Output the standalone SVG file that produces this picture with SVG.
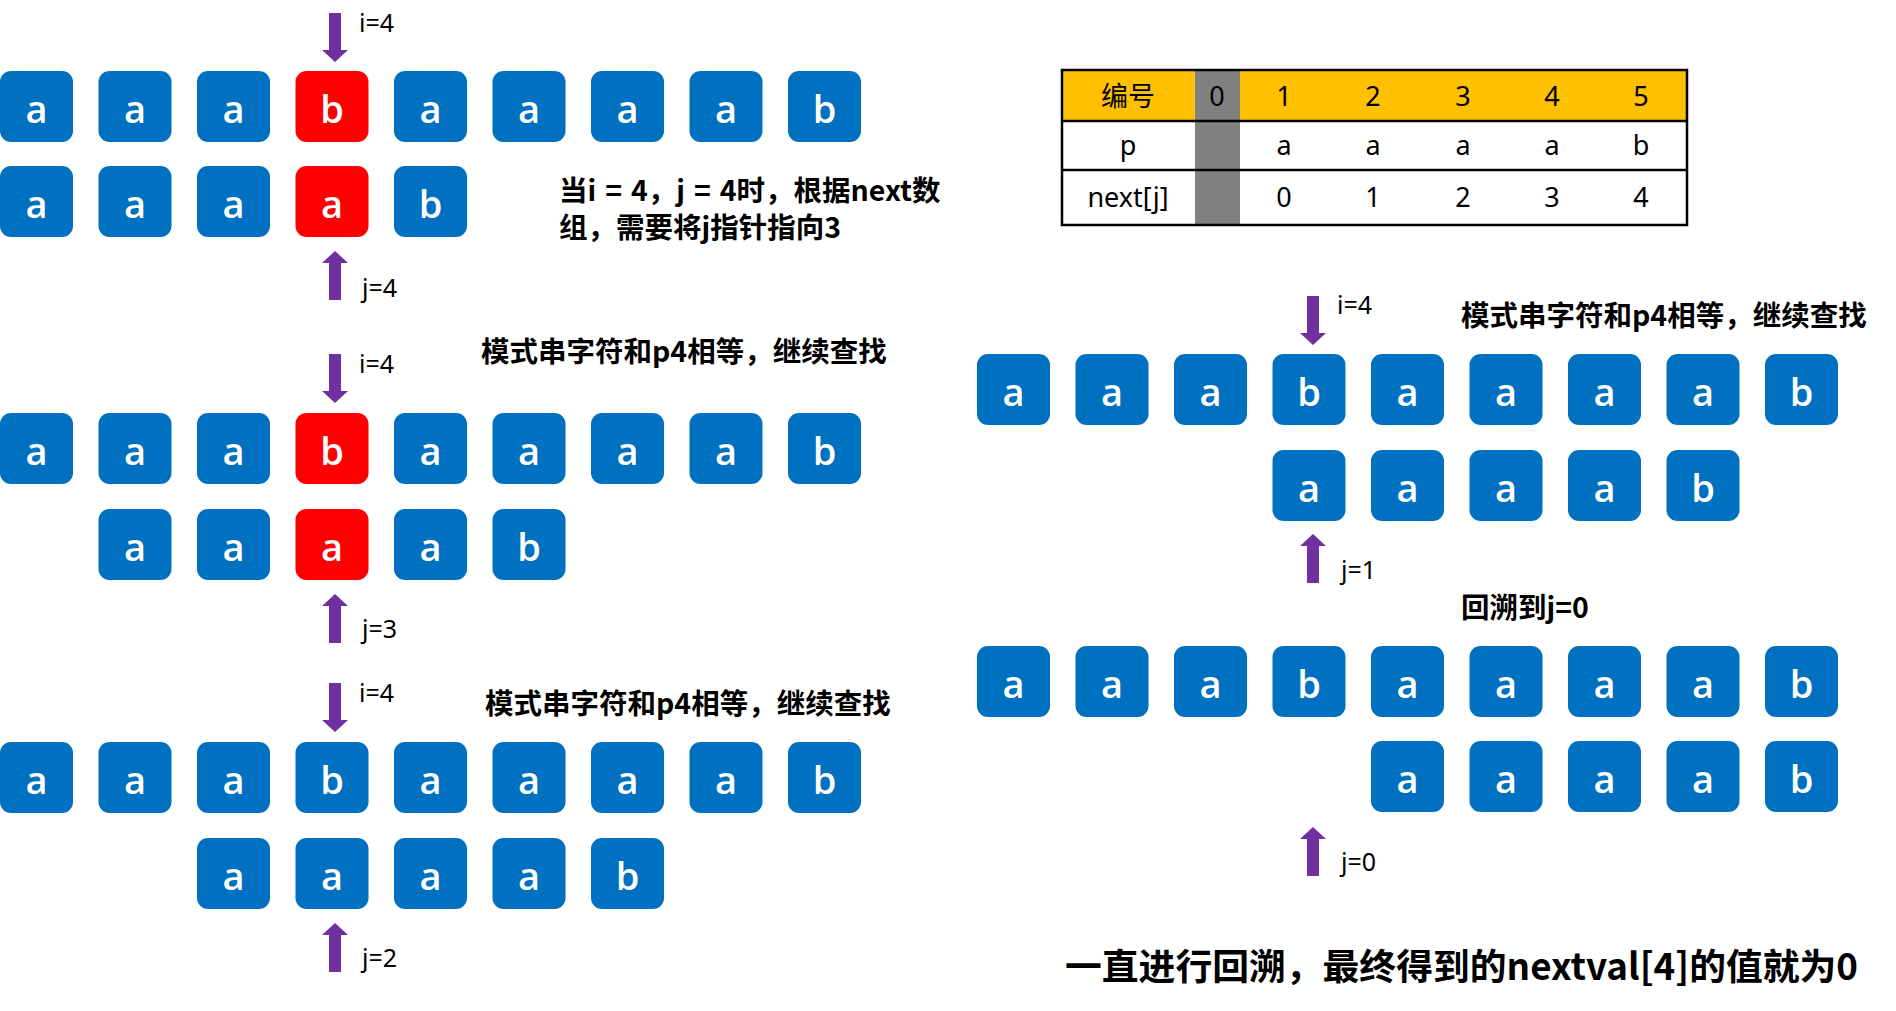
<svg xmlns="http://www.w3.org/2000/svg" xmlns:xlink="http://www.w3.org/1999/xlink" width="1896" height="1011" viewBox="0 0 1896 1011">
<style>
.bx{fill:#0070C0}
.rd{fill:#FF0000}
.ch{font-family:"Open Sans","Noto Sans",sans-serif;font-weight:600;font-size:38px;fill:#fff;text-anchor:middle}
.lbl{font-family:"Noto Sans","Liberation Sans",sans-serif;font-size:25px;fill:#000}
.cn{font-family:"Noto Sans CJK SC","Noto Sans",sans-serif;font-weight:bold;font-size:28.5px;fill:#000}
.big{font-family:"Noto Sans CJK SC","Noto Sans",sans-serif;font-weight:bold;font-size:36.8px;fill:#000}
.tb{font-family:"Noto Sans","Noto Sans CJK SC",sans-serif;font-size:27px;fill:#000;text-anchor:middle}
.arr{fill:#7030A0}
</style>
<defs>
<path id="down" d="M-6 0H6V37H13L0 49L-13 37H-6Z"/>
<path id="up" d="M0 0L13 12H6V49H-6V12H-13Z"/>
</defs>
<rect width="1896" height="1011" fill="#fff"/>

<g id="connectors" class="arr">
<use href="#down" x="335" y="13"/>
<use href="#up" x="335" y="251"/>
<use href="#down" x="335" y="354"/>
<use href="#up" x="335" y="594"/>
<use href="#down" x="335" y="683"/>
<use href="#up" x="335" y="923"/>
<use href="#down" x="1313" y="296"/>
<use href="#up" x="1313" y="534"/>
<use href="#up" x="1313" y="827"/>
</g>

<g id="labels">
<text class="lbl" x="359" y="32">i=4</text>
<text class="lbl" x="362" y="297">j=4</text>
<text class="lbl" x="359" y="373">i=4</text>
<text class="lbl" x="362" y="638">j=3</text>
<text class="lbl" x="359" y="702">i=4</text>
<text class="lbl" x="362" y="967">j=2</text>
<text class="lbl" x="1337" y="314">i=4</text>
<text class="lbl" x="1341" y="579">j=1</text>
<text class="lbl" x="1341" y="871">j=0</text>
<text class="cn" x="559" y="201" word-spacing="2.5">当i = 4，j = 4时，根据next数</text>
<text class="cn" x="559" y="238">组，需要将j指针指向3</text>
<text class="cn" x="481" y="362">模式串字符和p4相等，继续查找</text>
<text class="cn" x="485" y="714">模式串字符和p4相等，继续查找</text>
<text class="cn" x="1461" y="326">模式串字符和p4相等，继续查找</text>
<text class="cn" x="1461" y="618">回溯到j=0</text>
<text class="big" x="1065" y="980">一直进行回溯，最终得到的nextval[4]的值就为0</text>
</g>

<g id="table">
<rect x="1062" y="70" width="625" height="51" fill="#FFC000"/>
<rect x="1195" y="70" width="45" height="155" fill="#808080"/>
<path d="M1062 70H1687V225H1062Z M1062 121H1687 M1062 170H1687" fill="none" stroke="#000" stroke-width="2.5"/>
<text class="tb" x="1128" y="106">编号</text>
<text class="tb" x="1217" y="106">0</text>
<text class="tb" x="1284" y="106">1</text>
<text class="tb" x="1373" y="106">2</text>
<text class="tb" x="1463" y="106">3</text>
<text class="tb" x="1552" y="106">4</text>
<text class="tb" x="1641" y="106">5</text>
<text class="tb" x="1128" y="155">p</text>
<text class="tb" x="1284" y="155">a</text>
<text class="tb" x="1373" y="155">a</text>
<text class="tb" x="1463" y="155">a</text>
<text class="tb" x="1552" y="155">a</text>
<text class="tb" x="1641" y="155">b</text>
<text class="tb" x="1128" y="207">next[j]</text>
<text class="tb" x="1284" y="207">0</text>
<text class="tb" x="1373" y="207">1</text>
<text class="tb" x="1463" y="207">2</text>
<text class="tb" x="1552" y="207">3</text>
<text class="tb" x="1641" y="207">4</text>
</g>

<!-- Left section 1 -->
<g id="s1r1">
<rect class="bx" x="0" y="71" width="73" height="71" rx="11"/><text class="ch" x="36.5" y="123">a</text>
<rect class="bx" x="98.5" y="71" width="73" height="71" rx="11"/><text class="ch" x="135" y="123">a</text>
<rect class="bx" x="197" y="71" width="73" height="71" rx="11"/><text class="ch" x="233.5" y="123">a</text>
<rect class="rd" x="295.5" y="71" width="73" height="71" rx="11"/><text class="ch" x="332" y="123">b</text>
<rect class="bx" x="394" y="71" width="73" height="71" rx="11"/><text class="ch" x="430.5" y="123">a</text>
<rect class="bx" x="492.5" y="71" width="73" height="71" rx="11"/><text class="ch" x="529" y="123">a</text>
<rect class="bx" x="591" y="71" width="73" height="71" rx="11"/><text class="ch" x="627.5" y="123">a</text>
<rect class="bx" x="689.5" y="71" width="73" height="71" rx="11"/><text class="ch" x="726" y="123">a</text>
<rect class="bx" x="788" y="71" width="73" height="71" rx="11"/><text class="ch" x="824.5" y="123">b</text>
</g>
<g id="s1r2">
<rect class="bx" x="0" y="166" width="73" height="71" rx="11"/><text class="ch" x="36.5" y="218">a</text>
<rect class="bx" x="98.5" y="166" width="73" height="71" rx="11"/><text class="ch" x="135" y="218">a</text>
<rect class="bx" x="197" y="166" width="73" height="71" rx="11"/><text class="ch" x="233.5" y="218">a</text>
<rect class="rd" x="295.5" y="166" width="73" height="71" rx="11"/><text class="ch" x="332" y="218">a</text>
<rect class="bx" x="394" y="166" width="73" height="71" rx="11"/><text class="ch" x="430.5" y="218">b</text>
</g>

<!-- Left section 2 -->
<g id="s2r1">
<rect class="bx" x="0" y="413" width="73" height="71" rx="11"/><text class="ch" x="36.5" y="465">a</text>
<rect class="bx" x="98.5" y="413" width="73" height="71" rx="11"/><text class="ch" x="135" y="465">a</text>
<rect class="bx" x="197" y="413" width="73" height="71" rx="11"/><text class="ch" x="233.5" y="465">a</text>
<rect class="rd" x="295.5" y="413" width="73" height="71" rx="11"/><text class="ch" x="332" y="465">b</text>
<rect class="bx" x="394" y="413" width="73" height="71" rx="11"/><text class="ch" x="430.5" y="465">a</text>
<rect class="bx" x="492.5" y="413" width="73" height="71" rx="11"/><text class="ch" x="529" y="465">a</text>
<rect class="bx" x="591" y="413" width="73" height="71" rx="11"/><text class="ch" x="627.5" y="465">a</text>
<rect class="bx" x="689.5" y="413" width="73" height="71" rx="11"/><text class="ch" x="726" y="465">a</text>
<rect class="bx" x="788" y="413" width="73" height="71" rx="11"/><text class="ch" x="824.5" y="465">b</text>
</g>
<g id="s2r2">
<rect class="bx" x="98.5" y="509" width="73" height="71" rx="11"/><text class="ch" x="135" y="561">a</text>
<rect class="bx" x="197" y="509" width="73" height="71" rx="11"/><text class="ch" x="233.5" y="561">a</text>
<rect class="rd" x="295.5" y="509" width="73" height="71" rx="11"/><text class="ch" x="332" y="561">a</text>
<rect class="bx" x="394" y="509" width="73" height="71" rx="11"/><text class="ch" x="430.5" y="561">a</text>
<rect class="bx" x="492.5" y="509" width="73" height="71" rx="11"/><text class="ch" x="529" y="561">b</text>
</g>

<!-- Left section 3 -->
<g id="s3r1">
<rect class="bx" x="0" y="742" width="73" height="71" rx="11"/><text class="ch" x="36.5" y="794">a</text>
<rect class="bx" x="98.5" y="742" width="73" height="71" rx="11"/><text class="ch" x="135" y="794">a</text>
<rect class="bx" x="197" y="742" width="73" height="71" rx="11"/><text class="ch" x="233.5" y="794">a</text>
<rect class="bx" x="295.5" y="742" width="73" height="71" rx="11"/><text class="ch" x="332" y="794">b</text>
<rect class="bx" x="394" y="742" width="73" height="71" rx="11"/><text class="ch" x="430.5" y="794">a</text>
<rect class="bx" x="492.5" y="742" width="73" height="71" rx="11"/><text class="ch" x="529" y="794">a</text>
<rect class="bx" x="591" y="742" width="73" height="71" rx="11"/><text class="ch" x="627.5" y="794">a</text>
<rect class="bx" x="689.5" y="742" width="73" height="71" rx="11"/><text class="ch" x="726" y="794">a</text>
<rect class="bx" x="788" y="742" width="73" height="71" rx="11"/><text class="ch" x="824.5" y="794">b</text>
</g>
<g id="s3r2">
<rect class="bx" x="197" y="838" width="73" height="71" rx="11"/><text class="ch" x="233.5" y="890">a</text>
<rect class="bx" x="295.5" y="838" width="73" height="71" rx="11"/><text class="ch" x="332" y="890">a</text>
<rect class="bx" x="394" y="838" width="73" height="71" rx="11"/><text class="ch" x="430.5" y="890">a</text>
<rect class="bx" x="492.5" y="838" width="73" height="71" rx="11"/><text class="ch" x="529" y="890">a</text>
<rect class="bx" x="591" y="838" width="73" height="71" rx="11"/><text class="ch" x="627.5" y="890">b</text>
</g>

<!-- Right section A -->
<g id="rAr1">
<rect class="bx" x="977" y="354" width="73" height="71" rx="11"/><text class="ch" x="1013.5" y="406">a</text>
<rect class="bx" x="1075.5" y="354" width="73" height="71" rx="11"/><text class="ch" x="1112" y="406">a</text>
<rect class="bx" x="1174" y="354" width="73" height="71" rx="11"/><text class="ch" x="1210.5" y="406">a</text>
<rect class="bx" x="1272.5" y="354" width="73" height="71" rx="11"/><text class="ch" x="1309" y="406">b</text>
<rect class="bx" x="1371" y="354" width="73" height="71" rx="11"/><text class="ch" x="1407.5" y="406">a</text>
<rect class="bx" x="1469.5" y="354" width="73" height="71" rx="11"/><text class="ch" x="1506" y="406">a</text>
<rect class="bx" x="1568" y="354" width="73" height="71" rx="11"/><text class="ch" x="1604.5" y="406">a</text>
<rect class="bx" x="1666.5" y="354" width="73" height="71" rx="11"/><text class="ch" x="1703" y="406">a</text>
<rect class="bx" x="1765" y="354" width="73" height="71" rx="11"/><text class="ch" x="1801.5" y="406">b</text>
</g>
<g id="rAr2">
<rect class="bx" x="1272.5" y="450" width="73" height="71" rx="11"/><text class="ch" x="1309" y="502">a</text>
<rect class="bx" x="1371" y="450" width="73" height="71" rx="11"/><text class="ch" x="1407.5" y="502">a</text>
<rect class="bx" x="1469.5" y="450" width="73" height="71" rx="11"/><text class="ch" x="1506" y="502">a</text>
<rect class="bx" x="1568" y="450" width="73" height="71" rx="11"/><text class="ch" x="1604.5" y="502">a</text>
<rect class="bx" x="1666.5" y="450" width="73" height="71" rx="11"/><text class="ch" x="1703" y="502">b</text>
</g>

<!-- Right section B -->
<g id="rBr1">
<rect class="bx" x="977" y="646" width="73" height="71" rx="11"/><text class="ch" x="1013.5" y="698">a</text>
<rect class="bx" x="1075.5" y="646" width="73" height="71" rx="11"/><text class="ch" x="1112" y="698">a</text>
<rect class="bx" x="1174" y="646" width="73" height="71" rx="11"/><text class="ch" x="1210.5" y="698">a</text>
<rect class="bx" x="1272.5" y="646" width="73" height="71" rx="11"/><text class="ch" x="1309" y="698">b</text>
<rect class="bx" x="1371" y="646" width="73" height="71" rx="11"/><text class="ch" x="1407.5" y="698">a</text>
<rect class="bx" x="1469.5" y="646" width="73" height="71" rx="11"/><text class="ch" x="1506" y="698">a</text>
<rect class="bx" x="1568" y="646" width="73" height="71" rx="11"/><text class="ch" x="1604.5" y="698">a</text>
<rect class="bx" x="1666.5" y="646" width="73" height="71" rx="11"/><text class="ch" x="1703" y="698">a</text>
<rect class="bx" x="1765" y="646" width="73" height="71" rx="11"/><text class="ch" x="1801.5" y="698">b</text>
</g>
<g id="rBr2">
<rect class="bx" x="1371" y="741" width="73" height="71" rx="11"/><text class="ch" x="1407.5" y="793">a</text>
<rect class="bx" x="1469.5" y="741" width="73" height="71" rx="11"/><text class="ch" x="1506" y="793">a</text>
<rect class="bx" x="1568" y="741" width="73" height="71" rx="11"/><text class="ch" x="1604.5" y="793">a</text>
<rect class="bx" x="1666.5" y="741" width="73" height="71" rx="11"/><text class="ch" x="1703" y="793">a</text>
<rect class="bx" x="1765" y="741" width="73" height="71" rx="11"/><text class="ch" x="1801.5" y="793">b</text>
</g>
</svg>
